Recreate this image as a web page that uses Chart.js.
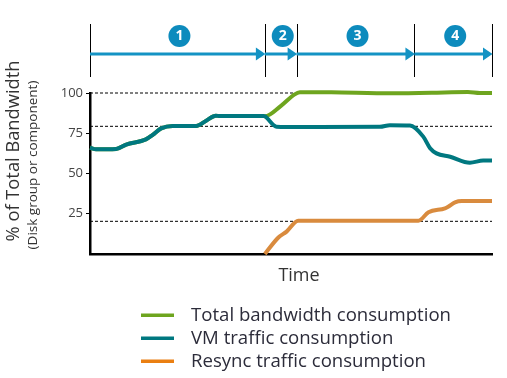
<!DOCTYPE html>
<html>
<head>
<meta charset="utf-8">
<script src="https://cdn.jsdelivr.net/npm/chart.js@4.4.1/dist/chart.umd.min.js"></script>
<style>
  html, body { margin: 0; padding: 0; background: #fff; }
  #wrap { width: 507px; height: 378px; position: relative; }
</style>
</head>
<body>
<div id="wrap"><canvas id="bw"></canvas></div>
<script>
/* ========== Data ========== */
// time axis runs 0..100 (arbitrary units)
const vmTime = [0, 1.5, 6.5, 9, 13.9, 15.6, 17.7, 20.6, 26.4, 28.9, 31.3, 32.3, 43.1, 43.5, 46.4, 52.2, 72.1, 74.6, 79.6, 82.9, 84.6, 86.2, 89.6, 94.5, 97.8, 100];
const vmValues = [66, 65, 65.2, 68, 71.2, 74, 78, 79.5, 79.5, 82.8, 85.9, 85.7, 85.7, 85.5, 79.1, 78.9, 79, 80, 79.8, 72.9, 65.7, 62.5, 60.4, 56.7, 58, 58];

const totalTime = [0, 1.5, 6.5, 9, 13.9, 15.6, 17.7, 20.6, 26.4, 28.9, 31.3, 32.3, 43.1, 43.5, 47.5, 50.8, 52.2, 60, 75, 85, 94, 97, 100];
const totalValues = [66, 65, 65.2, 68, 71.2, 74, 78, 79.5, 79.5, 82.8, 85.9, 85.7, 85.7, 85.5, 92, 99, 100.5, 100.4, 99.8, 100.2, 100.6, 100, 100];

const resyncTime = [43.5, 46.8, 48.9, 51.8, 81.7, 84.2, 88.3, 89.1, 90.8, 92.5, 100];
const resyncValues = [0, 10.1, 13.9, 20.7, 20.7, 25.9, 28.4, 29.4, 32.1, 32.9, 32.9];

const guideLevels = [100, 79.3, 20.3];
const yTicks = [25, 50, 75, 100];

const phaseBounds = [0, 43.5, 51.4, 80.7, 100];
const phaseLabels = ['1', '2', '3', '4'];

const seriesLabels = ['Total bandwidth consumption', 'VM traffic consumption', 'Resync traffic consumption'];

/* ========== Colors ========== */
const COLORS = {
  green: '#6ea51f',
  teal: '#007880',
  orange: '#d98b3e',
  orangeKey: '#ea7f12',
  blue: '#1493c4',
  circle: '#0d8bbd',
  text: '#2c2c3a'
};

const FONT = "'Open Sans', 'DejaVu Sans', sans-serif";

const toPoints = (xs, ys) => xs.map((x, i) => ({ x, y: ys[i] }));

/* ========== Annotations plugin ========== */
const annotatePlugin = {
  id: 'annotate',
  afterDraw(chart) {
    const { ctx, chartArea } = chart;
    const xs = chart.scales.x;
    ctx.save();

    // timeline
    const bx = phaseBounds.map(v => xs.getPixelForValue(v));
    ctx.strokeStyle = '#000';
    ctx.lineWidth = 1;
    bx.forEach(x => {
      const px = Math.round(x) + 0.5;
      ctx.beginPath();
      ctx.moveTo(px, 24);
      ctx.lineTo(px, 77);
      ctx.stroke();
    });
    const ay = 54;
    for (let i = 0; i < bx.length - 1; i++) {
      const x0 = bx[i], x1 = bx[i + 1];
      ctx.strokeStyle = COLORS.blue;
      ctx.lineWidth = 3;
      ctx.beginPath();
      ctx.moveTo(x0, ay);
      ctx.lineTo(x1 - 8, ay);
      ctx.stroke();
      ctx.fillStyle = COLORS.blue;
      ctx.beginPath();
      ctx.moveTo(x1 - 9, ay - 6.5);
      ctx.lineTo(x1 + 0.5, ay);
      ctx.lineTo(x1 - 9, ay + 6.5);
      ctx.closePath();
      ctx.fill();

      const cx = (x0 + x1) / 2 + 2;
      ctx.fillStyle = COLORS.circle;
      ctx.beginPath();
      ctx.arc(cx, 36, 11, 0, Math.PI * 2);
      ctx.fill();
      ctx.fillStyle = '#fff';
      ctx.font = "bold 14px " + FONT;
      ctx.textAlign = 'center';
      ctx.textBaseline = 'middle';
      ctx.fillText(phaseLabels[i], cx, 36.5);
    }

    // y titles
    ctx.fillStyle = '#333';
    ctx.textAlign = 'center';
    ctx.textBaseline = 'middle';
    ctx.save();
    ctx.translate(14, 151);
    ctx.rotate(-Math.PI / 2);
    ctx.font = "18.3px " + FONT;
    ctx.fillText('% of Total Bandwidth', 0, 0);
    ctx.restore();
    ctx.save();
    ctx.translate(33, 165);
    ctx.rotate(-Math.PI / 2);
    ctx.font = "13.5px " + FONT;
    ctx.fillText('(Disk group or component)', 0, 0);
    ctx.restore();

    // x title
    ctx.font = "18px " + FONT;
    ctx.fillText('Time', (chartArea.left + chartArea.right) / 2 + 8, 276);

    // legend
    const keyColors = [COLORS.green, COLORS.teal, COLORS.orangeKey];
    const rows = [315, 338, 361];
    ctx.textAlign = 'left';
    ctx.font = "18.6px " + FONT;
    seriesLabels.forEach((lab, i) => {
      ctx.fillStyle = keyColors[i];
      ctx.fillRect(141, rows[i] - 1.5, 33, 3.5);
      ctx.fillStyle = COLORS.text;
      ctx.fillText(lab, 191, rows[i] + 1);
    });

    ctx.restore();
  }
};

/* ========== Chart ========== */
function createChart() {
  const guideSets = guideLevels.map(v => ({
    data: toPoints([0, 100], [v, v]),
    borderColor: '#000',
    borderWidth: 1,
    borderDash: [3, 2],
    pointRadius: 0,
    order: 5
  }));

  new Chart(document.getElementById('bw'), {
    type: 'line',
    data: {
      datasets: [
        {
          label: seriesLabels[1],
          data: toPoints(vmTime, vmValues),
          borderColor: COLORS.teal,
          borderWidth: 4,
          cubicInterpolationMode: 'monotone',
          pointRadius: 0,
          order: 0
        },
        {
          label: seriesLabels[0],
          data: toPoints(totalTime, totalValues),
          borderColor: COLORS.green,
          borderWidth: 4,
          cubicInterpolationMode: 'monotone',
          pointRadius: 0,
          order: 1
        },
        {
          label: seriesLabels[2],
          data: toPoints(resyncTime, resyncValues),
          borderColor: COLORS.orange,
          borderWidth: 4,
          cubicInterpolationMode: 'monotone',
          pointRadius: 0,
          order: 2
        },
        ...guideSets
      ]
    },
    options: {
      responsive: true,
      maintainAspectRatio: false,
      animation: false,
      clip: 6,
      layout: { padding: { top: 93, right: 15, left: 0, bottom: 0 } },
      plugins: { legend: { display: false }, tooltip: { enabled: false } },
      scales: {
        x: {
          type: 'linear',
          min: 0,
          max: 100,
          ticks: { display: false },
          grid: { display: false },
          border: { display: true, color: '#000', width: 2.5 },
          afterFit(scale) { scale.height = 124; }
        },
        y: {
          min: 0,
          max: 100,
          afterBuildTicks(scale) { scale.ticks = yTicks.map(v => ({ value: v })); },
          ticks: { color: '#444', font: { family: FONT, size: 13 }, padding: 3 },
          grid: { drawOnChartArea: false, drawTicks: true, tickLength: 4, color: '#000', lineWidth: 1 },
          border: { display: true, color: '#000', width: 2.5 },
          afterFit(scale) { scale.width = 90; }
        }
      }
    },
    plugins: [annotatePlugin]
  });
}

document.addEventListener('DOMContentLoaded', createChart);
</script>
</body>
</html>
